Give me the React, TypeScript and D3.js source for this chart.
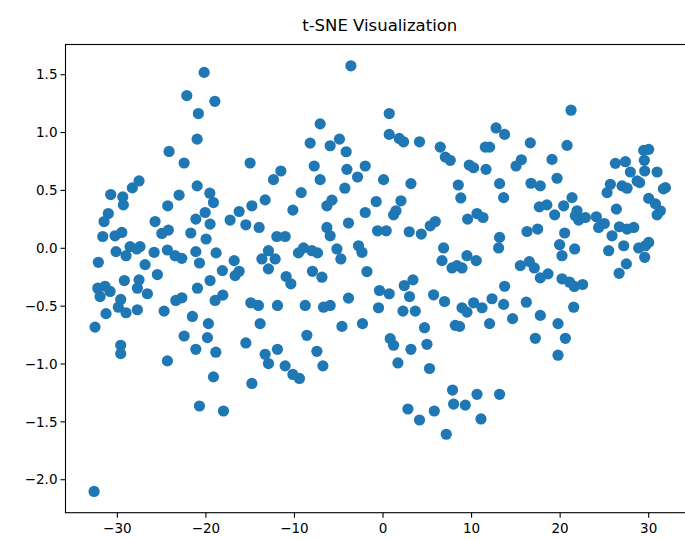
import React from "react";
import * as d3 from "d3";

const title = "t-SNE Visualization";
const xTicks = [-30, -20, -10, 0, 10, 20, 30];
const yTicks = [-2.0, -1.5, -1.0, -0.5, 0.0, 0.5, 1.0, 1.5];

const xs = [
  -20.2, -22.16, -18.99, -20.85, -20.99, -24.16, -22.46, -15.01, -27.55, -28.31,
  -20.99, -30.75, -29.39, -23.03, -19.56, -13.31, -3.63, 0.7, -7.1, -8.23,
  -4.92, -5.97, -4.16, 0.7, 1.83, 2.32, 4.12, 6.46, 7.03, 7.59,
  9.74, -11.54, -12.37, -7.77, -7.1, -4.08, -2.88, -2.01, 0.06, 3.15,
  8.5, -4.31, -9.24, -5.77, -0.77, 2.02, 8.78, 21.23, 12.76, 13.73,
  16.63, 20.78, 11.55, 12.03, 29.44, 30.0, 29.51, 10.23, 11.63, 15.62,
  15.02, 19.08, 26.24, 27.37, 27.93, 29.55, 30.95, 28.98, 28.69, 31.89,
  31.66, 13.16, 16.71, 17.76, 19.65, 25.67, 25.3, 26.99, 27.56, 13.62,
  18.5, 21.34, 30.0, 30.76, -29.32, -24.31, -14.81, -19.15, -16.25, -31.02,
  -31.5, -25.74, -20.09, -21.14, -19.53, -17.27, -15.49, -13.99, -31.65, -30.26,
  -29.5, -24.98, -24.24, -21.71, -19.98, -30.15, -29.02, -28.56, -27.44, -27.81,
  -25.85, -24.35, -23.48, -22.72, -21.14, -20.73, -18.85, -16.81, -13.68, -12.94,
  -12.94, -32.15, -26.87, -25.48, -18.14, -16.25, -16.7, -19.53, -29.21, -27.55,
  -27.74, -26.61, -32.21, -31.39, -30.82, -31.95, -20.96, -29.62, -29.89, -29.02,
  -27.74, -23.4, -22.72, -18.96, -18.09, -24.72, -31.28, -14.93, -14.07, -21.53,
  -19.72, -32.52, -13.88, -22.46, -19.83, -15.49, -29.62, -21.14, -18.88, -10.18,
  -6.34, 1.46, 1.19, -2.01, 9.55, -3.9, -6.34, -5.97, -0.62, 0.36,
  2.96, 4.32, 5.33, 5.9, -11.99, -11.05, -12.18, -9.55, -8.98, -8.03,
  -7.4, -5.21, -4.76, -2.77, -2.38, -1.82, -7.97, -6.9, -10.94, -10.41,
  6.84, 6.66, 7.79, 8.35, 8.92, 9.48, 3.38, 2.4, 2.99, -0.4,
  0.7, 5.71, 6.95, -3.9, -0.51, -6.72, -5.97, -8.79, -11.92, 2.25,
  3.64, 8.92, 9.48, -4.64, -2.32, 4.69, 8.16, 8.64, -8.6, 0.81,
  1.19, 4.96, 3.15, -11.92, -7.47, 17.65, 19.38, 20.4, 21.91, 21.72,
  22.09, 22.85, 24.09, 24.99, 24.35, 26.35, 31.32, 30.95, 10.61, 11.29,
  13.16, 13.05, 16.26, 17.46, 20.51, 19.94, 20.21, 21.64, 25.86, 26.69,
  27.56, 28.31, 27.18, 25.48, 28.87, 29.63, 30.0, 29.55, 27.48, 26.66,
  10.53, 15.5, 16.52, 17.08, 17.76, 18.63, 20.21, 21.07, 21.6, 22.54,
  13.73, 12.31, 13.62, 10.23, 11.18, 16.18, 21.53, 14.63, 17.76, 12.03,
  19.76, 17.2, 20.59, 19.76, -29.62, -24.35, -13.31, -12.94, -19.15, -14.81,
  -20.73, -18.02, -32.63, -11.05, -10.18, -9.44, -6.79, 1.68, 5.25, 7.85,
  7.97, 9.29, 2.81, 4.12, 5.79, 7.14, 10.61, 13.16, 11.06,
];

const ys = [
  1.52, 1.319, 1.27, 1.164, 0.943, 0.837, 0.737, 0.737, 0.582, 0.522,
  0.539, 0.464, 0.444, 0.459, 0.476, 0.418, 1.577, 1.164, 1.075, 0.909,
  0.943, 0.886, 0.834, 0.984, 0.949, 0.92, 0.92, 0.874, 0.788, 0.76,
  0.719, 0.668, 0.593, 0.711, 0.593, 0.682, 0.616, 0.711, 0.593, 0.559,
  0.547, 0.519, 0.481, 0.416, 0.404, 0.41, 0.435, 1.193, 1.04, 0.984,
  0.911, 0.889, 0.874, 0.874, 0.846, 0.855, 0.76, 0.696, 0.682, 0.765,
  0.711, 0.768, 0.734, 0.748, 0.659, 0.668, 0.659, 0.567, 0.582, 0.524,
  0.513, 0.559, 0.562, 0.539, 0.605, 0.553, 0.481, 0.539, 0.519, 0.438,
  0.375, 0.438, 0.431, 0.384, 0.375, 0.367, 0.367, 0.395, 0.318, 0.3,
  0.231, 0.231, 0.309, 0.252, 0.209, 0.244, 0.203, 0.18, 0.102, 0.108,
  0.137, 0.128, 0.157, 0.132, 0.08, -0.029, -0.064, 0.014, 0.014, -0.006,
  -0.035, -0.015, -0.064, -0.087, -0.029, -0.127, -0.04, -0.107, -0.092, -0.021,
  -0.178, -0.121, -0.141, -0.227, -0.193, -0.199, -0.236, -0.279, -0.279, -0.273,
  -0.345, -0.393, -0.345, -0.328, -0.373, -0.417, -0.345, -0.442, -0.509, -0.557,
  -0.531, -0.451, -0.428, -0.451, -0.405, -0.543, -0.565, -0.471, -0.494, -0.589,
  -0.651, -0.681, -0.651, -0.758, -0.772, -0.818, -0.838, -0.873, -0.898, 0.33,
  0.367, 0.324, 0.289, 0.309, 0.252, 0.218, 0.18, 0.108, 0.151, 0.151,
  0.143, 0.123, 0.194, 0.231, 0.102, 0.102, -0.092, -0.04, 0.003, -0.021,
  -0.04, -0.006, -0.092, 0.022, -0.035, -0.201, -0.199, -0.25, -0.244, -0.307,
  0.003, -0.107, -0.17, -0.15, -0.17, -0.064, -0.273, -0.322, -0.417, -0.365,
  -0.393, -0.402, -0.46, -0.431, -0.514, -0.509, -0.494, -0.494, -0.494, -0.543,
  -0.543, -0.514, -0.552, -0.675, -0.651, -0.686, -0.666, -0.675, -0.752, -0.781,
  -0.838, -0.83, -0.873, -0.873, -0.89, 0.358, 0.289, 0.367, 0.324, 0.281,
  0.244, 0.266, 0.272, 0.214, 0.18, 0.338, 0.324, 0.289, 0.3, 0.266,
  0.094, 0.003, 0.145, 0.166, 0.132, 0.031, -0.064, -0.006, 0.108, 0.186,
  0.166, 0.18, 0.022, -0.021, 0.003, 0.022, 0.051, -0.078, -0.135, -0.216,
  -0.107, -0.15, -0.115, -0.17, -0.256, -0.221, -0.264, -0.293, -0.33, -0.313,
  -0.328, -0.436, -0.485, -0.471, -0.514, -0.466, -0.509, -0.608, -0.58, -0.651,
  -0.651, -0.778, -0.778, -0.924, -0.91, -0.973, -0.916, -0.996, -1.111, -1.168,
  -1.363, -1.406, -2.101, -1.016, -1.09, -1.125, -1.016, -0.991, -1.039, -1.225,
  -1.346, -1.355, -1.389, -1.484, -1.406, -1.607, -1.262, -1.262, -1.475,
];

const W = 685;
const H = 539;
const left = 65.5;
const right = 694;
const top = 44.5;
const bottom = 512.7;

export default function App() {
  const xExt = d3.extent(xs) as [number, number];
  const yExt = d3.extent(ys) as [number, number];
  const xr = xExt[1] - xExt[0];
  const yr = yExt[1] - yExt[0];
  const x = d3.scaleLinear().domain([xExt[0] - 0.05 * xr, xExt[1] + 0.05 * xr]).range([left, right]);
  const y = d3.scaleLinear().domain([yExt[0] - 0.05 * yr, yExt[1] + 0.05 * yr]).range([bottom, top]);
  const fmtY = (v: number) => d3.format(".1f")(v).replace("-", "\u2212");
  const fmtX = (v: number) => String(v).replace("-", "\u2212");
  const pts = xs.map((v, i) => [v, ys[i]]);
  const font = "DejaVu Sans, sans-serif";
  return (
    <svg width={W} height={H} style={{ position: "fixed", left: 0, top: 0, background: "#fff" }} fontFamily={font}>
      <rect x={0} y={0} width={W} height={H} fill="#fff" />
      <text x={(left + right) / 2} y={31} textAnchor="middle" fontSize={16.5} fill="#000">{title}</text>
      <g>
        {pts.map((p, i) => (
          <circle key={i} cx={x(p[0])} cy={y(p[1])} r={5.6} fill="#1f77b4" />
        ))}
      </g>
      <rect x={left} y={top} width={right - left} height={bottom - top} fill="none" stroke="#000" strokeWidth={1.1} />
      {xTicks.map((t) => (
        <g key={"x" + t}>
          <line x1={x(t)} x2={x(t)} y1={bottom} y2={bottom + 5} stroke="#000" strokeWidth={1.1} />
          <text x={x(t)} y={bottom + 20} textAnchor="middle" fontSize={13.5} fill="#000">{fmtX(t)}</text>
        </g>
      ))}
      {yTicks.map((t) => (
        <g key={"y" + t}>
          <line x1={left - 5} x2={left} y1={y(t)} y2={y(t)} stroke="#000" strokeWidth={1.1} />
          <text x={left - 8} y={y(t)} dy="0.35em" textAnchor="end" fontSize={13.5} fill="#000">{fmtY(t)}</text>
        </g>
      ))}
    </svg>
  );
}
